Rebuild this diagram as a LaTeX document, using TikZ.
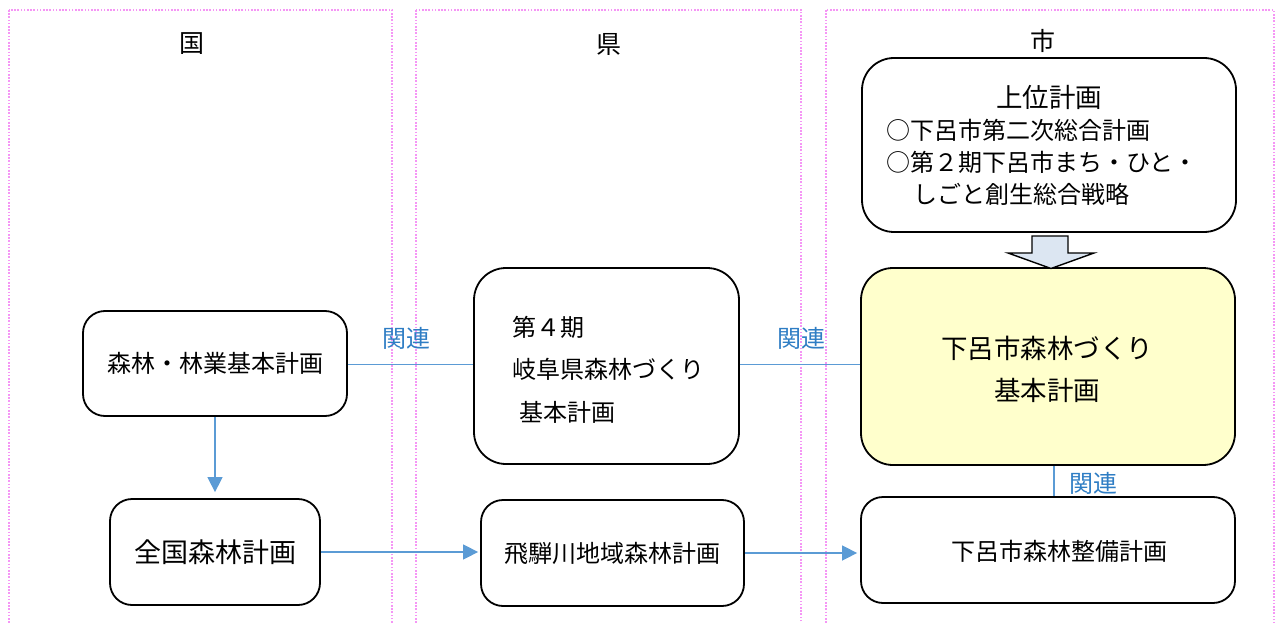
\documentclass[tikz,border=0pt]{standalone}
\usepackage{fontspec}
\setmainfont{Noto Sans CJK JP}
\usetikzlibrary{arrows.meta}
\definecolor{colline}{RGB}{91,155,213}
\definecolor{collabel}{RGB}{46,125,196}
\definecolor{colpink}{RGB}{245,150,245}
\definecolor{colyellow}{RGB}{255,255,204}
\definecolor{colarrow}{RGB}{220,230,242}
\begin{document}
\begin{tikzpicture}[x=1pt,y=-1pt,
  colbox/.style={draw=colpink,line width=1.6pt,dash pattern=on 1.6pt off 1.6pt},
  planbox/.style={draw=black,line width=1.8pt,rounded corners=22pt,rectangle,inner sep=0pt,font=\fontsize{24}{28}\selectfont},
  bigbox/.style={planbox,rounded corners=32pt},
  txt/.style={font=\fontsize{24}{28}\selectfont,inner sep=0pt},
  bigtxt/.style={font=\fontsize{26.5}{30}\selectfont,inner sep=0pt},
  head/.style={font=\fontsize{25}{29}\selectfont,inner sep=0pt},
  rel/.style={font=\fontsize{24}{28}\selectfont,text=collabel,inner sep=0pt},
  link/.style={draw=colline,line width=1.5pt},
  arr/.style={link,-{Triangle[width=15pt,length=15pt]}},
]
\useasboundingbox (0,0) rectangle (1285,623);
% columns
\draw[colbox] (9,10) rectangle (392,640);
\draw[colbox] (416,10) rectangle (801,640);
\draw[colbox] (826,10) rectangle (1274,640);
% headings
\node[head] (hkuni) at (192,44) {国};
\node[head] (hken) at (609,44) {県};
\node[head] (hshi) at (1043,41) {市};
% boxes
\node[planbox,minimum width=264pt,minimum height=105pt] (kihon) at (215,363.5) {森林・林業基本計画};
\node[planbox,minimum width=210pt,minimum height=106pt,font=\fontsize{27}{31}\selectfont] (zenkoku) at (215,552) {全国森林計画};
\node[bigbox,minimum width=265pt,minimum height=196pt] (ken4) at (606.5,366) {};
\node[planbox,minimum width=263pt,minimum height=106pt] (hida) at (612.5,553) {飛騨川地域森林計画};
\node[bigbox,minimum width=374pt,minimum height=174pt] (joui) at (1049,145) {};
\node[bigbox,fill=colyellow,minimum width=374pt,minimum height=197pt] (shimo) at (1048,366.5) {};
\node[planbox,minimum width=374pt,minimum height=106pt] (seibi) at (1048,550) {};
% texts in boxes
\node[txt] (st) at (1059,551) {下呂市森林整備計画};
\node[txt,anchor=west] (k4a) at (512,327) {第４期};
\node[txt,anchor=west] (k4b) at (512,369) {岐阜県森林づくり};
\node[txt,anchor=west] (k4c) at (519,412) {基本計画};
\node[bigtxt] (jt) at (1049,97) {上位計画};
\node[txt,anchor=west] (j1) at (886,130) {○下呂市第二次総合計画};
\node[txt,anchor=west] (j2) at (886,162) {○第２期下呂市まち・ひと・};
\node[txt,anchor=west] (j3) at (913,194) {しごと創生総合戦略};
\node[bigtxt] (sa) at (1047,348) {下呂市森林づくり};
\node[bigtxt] (sb) at (1047,390) {基本計画};
% block arrow
\draw[draw=black,line width=1.4pt,fill=colarrow,line join=miter]
  (1032,236) -- (1068,236) -- (1068,253) -- (1094,253) -- (1051,268.5) -- (1008,253) -- (1032,253) -- cycle;
% connectors
\coordinate (lk) at (0,364.5);
\draw[link] (kihon.east |- lk) -- (ken4.west |- lk);
\draw[link] (ken4.east |- lk) -- (shimo.west |- lk);
\draw[link] (shimo.south -| 1054,0) coordinate (sbot) -- (sbot |- seibi.north);
\draw[arr,shorten >=6pt] (kihon.south) -- (zenkoku.north);
\draw[arr,shorten >=2pt] (zenkoku.east) -- (zenkoku.east -| hida.west);
\draw[arr,shorten >=3pt] (hida.east) -- (hida.east -| seibi.west);
% labels
\node[rel] (r1) at (406,338) {関連};
\node[rel] (r2) at (801,338) {関連};
\node[rel] (r3) at (1093,483) {関連};
\end{tikzpicture}
\end{document}
